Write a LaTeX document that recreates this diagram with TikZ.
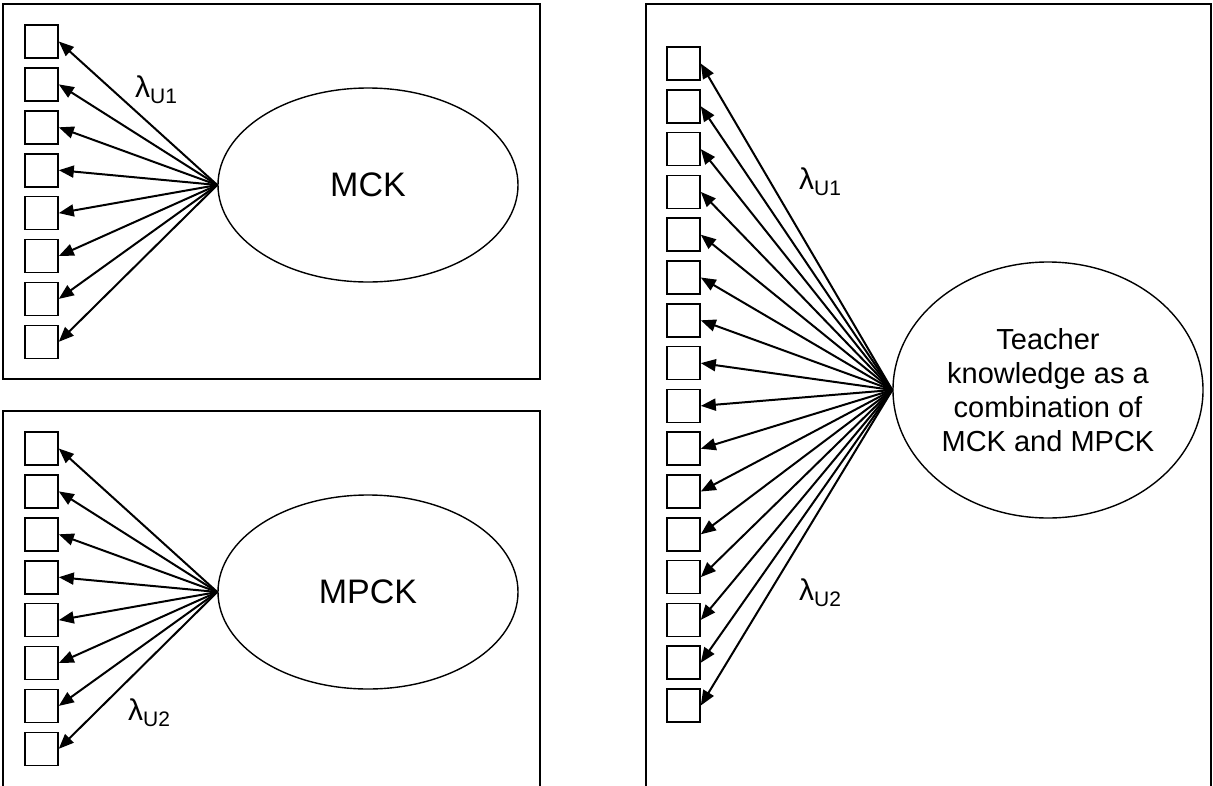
\documentclass[tikz,border=0pt]{standalone}
\usepackage{fontspec}
\setmainfont{Liberation Sans}
\usetikzlibrary{arrows.meta,shapes.geometric}
\newcommand{\lamlab}[1]{{\fontsize{30}{30}\selectfont λ}{\fontsize{21}{21}\selectfont\raisebox{-6pt}{#1}}}
\begin{document}
\begin{tikzpicture}[x=1pt,y=-1pt,
  panel/.style={draw,line width=2pt},
  ind/.style={draw,line width=1.6pt,minimum width=33pt,minimum height=33pt,inner sep=0pt},
  latent/.style={draw,ellipse,line width=1.4pt,inner sep=0pt},
  load/.style={line width=2pt,-{Triangle[length=15pt,width=12pt]}},
  lab/.style={anchor=base west,inner sep=0pt}]
\useasboundingbox (0,0) rectangle (1213,785);
% panels
\draw[panel] (3,4) rectangle (540,379);
\draw[panel] (3,790) -- (3,411) -- (540,411) -- (540,790);
\draw[panel] (646,790) -- (646,4) -- (1211,4) -- (1211,790);
% ellipses
\node[latent,minimum width=300pt,minimum height=194pt,font=\fontsize{34}{34}\selectfont] (mck) at (368,185) {MCK};
\node[latent,minimum width=300pt,minimum height=194pt,font=\fontsize{34}{34}\selectfont] (mpck) at (368,592) {MPCK};
\node[latent,minimum width=310pt,minimum height=256pt,align=center,font=\fontsize{29}{34}\selectfont] (tk) at (1048,390) {Teacher\\knowledge as a\\combination of\\MCK and MPCK};
% indicators
\foreach \i in {0,...,7}{
  \node[ind] (a\i) at (41.5,{41.5+42.9*\i}) {};
  \draw[load] (mck.west) -- (a\i.east);
  \node[ind] (b\i) at (41.5,{448.5+42.9*\i}) {};
  \draw[load] (mpck.west) -- (b\i.east);
}
\foreach \i in {0,...,15}{
  \node[ind] (c\i) at (683.5,{63.5+42.8*\i}) {};
  \draw[load] (tk.west) -- (c\i.east);
}
% labels
\node[lab] (l1) at (135,97) {\lamlab{U1}};
\node[lab] (l2) at (128,720) {\lamlab{U2}};
\node[lab] (l3) at (799,189) {\lamlab{U1}};
\node[lab] (l4) at (799,600) {\lamlab{U2}};
\end{tikzpicture}
\end{document}
